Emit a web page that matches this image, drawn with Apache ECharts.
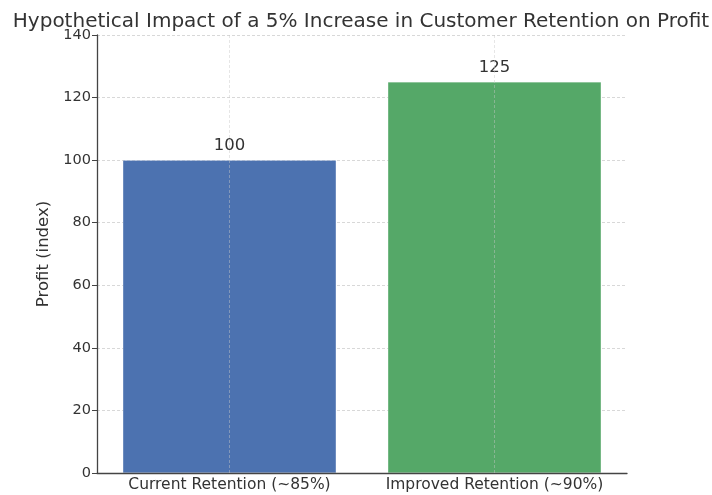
<!DOCTYPE html>
<html><head><meta charset="utf-8">
<script src="https://cdn.jsdelivr.net/npm/echarts@6/dist/echarts.min.js"></script>
<style>html,body{margin:0;padding:0;background:#fff}#c{width:712px;height:495px}</style>
</head><body><div id="c"></div>
<script>
const categories = ['Current Retention (~85%)', 'Improved Retention (~90%)'];
const profitValues = [100, 125];
const barColors = ['#4c72b0', '#55a868'];
const yTicks = [0, 20, 40, 60, 80, 100, 120, 140];

const chart = echarts.init(document.getElementById('c'), null, {renderer: 'canvas'});
const font = 'DejaVu Sans';
chart.setOption({
  animation: false,
  backgroundColor: '#fff',
  title: {
    text: 'Hypothetical Impact of a 5% Increase in Customer Retention on Profit',
    left: 356, top: 7, textAlign: 'center',
    textStyle: {fontFamily: font, fontSize: 20, fontWeight: 'normal', color: '#333'}
  },
  grid: {left: 97, right: 85, top: 35, bottom: 22},
  xAxis: {
    type: 'category', data: categories, z: 3,
    boundaryGap: true,
    axisLine: {lineStyle: {color: '#444', width: 1.3}},
    axisTick: {alignWithLabel: true, inside: true, length: 4, lineStyle: {color: '#444'}},
    axisLabel: {interval: 0, hideOverlap: false, fontFamily: font, fontSize: 15.5, color: '#333', margin: 4},
    splitLine: {show: false}
  },
  yAxis: {
    type: 'value', min: 0, max: 140, interval: 20,
    name: 'Profit (index)', nameLocation: 'middle', nameGap: 41,
    nameTextStyle: {fontFamily: font, fontSize: 16.5, color: '#333'},
    axisLine: {show: true, lineStyle: {color: '#444', width: 1.3}},
    axisTick: {show: true, length: 5, lineStyle: {color: '#444'}},
    axisLabel: {fontFamily: font, fontSize: 14.5, color: '#333', margin: 6,
      formatter: v => yTicks.includes(v) ? String(v) : ''},
    splitLine: {show: true, lineStyle: {type: [3, 2], color: '#d8d8d8', width: 1}}
  },
  series: [{
    type: 'bar', barWidth: '80.5%',
    data: profitValues.map((v, i) => ({value: v, itemStyle: {color: barColors[i]}})),
    itemStyle: {borderColor: 'rgba(255,255,255,0.4)', borderWidth: 0.5},
    label: {show: true, position: 'top', distance: 6, fontFamily: font, fontSize: 16.5, color: '#333'},
    markLine: {
      silent: true, symbol: 'none', z: 5,
      label: {show: false},
      lineStyle: {type: [3, 2], color: 'rgba(200,200,200,0.45)', width: 1},
      data: categories.map((c, i) => ({xAxis: i}))
    }
  }]
});
</script></body></html>
